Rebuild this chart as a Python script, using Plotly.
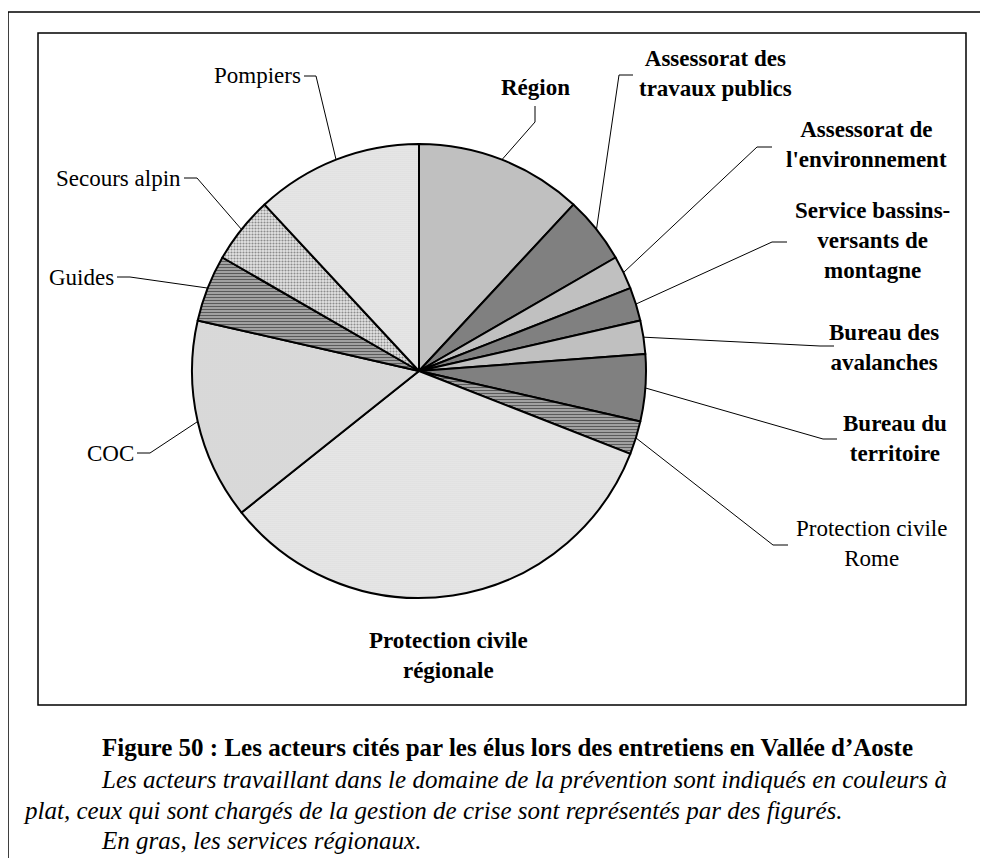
import math
import plotly.graph_objects as go

# données (nombre de citations par acteur)
acteurs = ["Région", "Assessorat des travaux publics", "Assessorat de l'environnement",
           "Service bassins-versants de montagne", "Bureau des avalanches",
           "Bureau du territoire", "Protection civile Rome", "Protection civile régionale",
           "COC", "Guides", "Secours alpin", "Pompiers"]
citations = [5, 2, 1, 1, 1, 2, 1, 14, 6, 2, 2, 5]
etiquettes = ["Région", "Assessorat des<br>travaux publics", "Assessorat de<br>l'environnement",
              "Service bassins-<br>versants de<br>montagne", "Bureau des<br>avalanches",
              "Bureau du<br>territoire", "Protection civile<br>Rome",
              "Protection civile<br>régionale", "COC", "Guides", "Secours alpin", "Pompiers"]
service_regional = [True, True, True, True, True, True, False, True, False, False, False, False]

titre = "Figure 50 : Les acteurs cités par les élus lors des entretiens en Vallée d’Aoste"
legende = [
    "Les acteurs travaillant dans le domaine de la prévention sont indiqués en couleurs à",
    "plat, ceux qui sont chargés de la gestion de crise sont représentés par des figurés.",
    "En gras, les services régionaux.",
]

# mise en page (pixels de la capture ; la page a une marge de 8 px)
W, H = 988, 858
OFF = 8
CX, CY, R = 419, 371, 227
FONT = "Liberation Serif, Times New Roman, serif"

# remplissage : (couleur, motif, trait, fond, taille, densité)
remplis = [
    ("#c0c0c0", "", None, None, 8, 0.3),
    ("#808080", "", None, None, 8, 0.3),
    ("#c0c0c0", "", None, None, 8, 0.3),
    ("#808080", "", None, None, 8, 0.3),
    ("#c0c0c0", "", None, None, 8, 0.3),
    ("#808080", "", None, None, 8, 0.3),
    ("#a0a0a0", "-", "#5a5a5a", "#b0b0b0", 3, 0.45),
    ("#e6e6e6", ".", "#c4c4c4", "#ededed", 2, 0.3),
    ("#e0e0e0", ".", "#bdbdbd", "#e8e8e8", 2, 0.35),
    ("#a0a0a0", "-", "#5a5a5a", "#b0b0b0", 3, 0.45),
    ("#d0d0d0", ".", "#8c8c8c", "#e4e4e4", 3, 0.4),
    ("#e6e6e6", ".", "#c4c4c4", "#ededed", 2, 0.3),
]

# position des étiquettes : texte (x, y, ancre), coude et fin du trait de rappel
placement = [
    (535, 88, "center", (535, 122), (535, 106)),
    (715, 74, "center", (619, 75), (633, 75)),
    (866, 145, "center", (757, 147), (772, 147)),
    (872, 241, "center", (772, 242), (787, 242)),
    (884, 347, "center", (820, 346), (834, 346)),
    (895, 438, "center", (823, 439), (837, 439)),
    (871, 543, "center", (773, 545), (788, 545)),
    (448, 655, "center", None, None),
    (136, 453, "right", (150, 453), (137, 453)),
    (116, 277, "right", (130, 277), (117, 277)),
    (183, 178, "right", (197, 178), (184, 178)),
    (303, 76, "right", (316, 76), (304, 76)),
]


def px(x):
    return (x - OFF) / W


def py(y):
    return 1 - (y - OFF) / H


fig = go.Figure(go.Pie(
    labels=acteurs,
    values=citations,
    sort=False,
    direction="clockwise",
    rotation=0,
    textinfo="none",
    hoverinfo="label+value",
    showlegend=False,
    domain=dict(x=[px(CX - R), px(CX + R)], y=[py(CY + R), py(CY - R)]),
    marker=dict(
        colors=[r[0] for r in remplis],
        line=dict(color="black", width=2),
        pattern=dict(
            shape=[r[1] for r in remplis],
            fgcolor=[r[2] or r[0] for r in remplis],
            bgcolor=[r[3] or r[0] for r in remplis],
            size=[r[4] for r in remplis],
            solidity=[r[5] for r in remplis],
            fillmode="replace",
        ),
    ),
))

shapes = [
    dict(type="rect", xref="paper", yref="paper", x0=px(8), y0=py(H + 20), x1=px(W + 20), y1=py(12),
         line=dict(color="black", width=1.5)),
    dict(type="rect", xref="paper", yref="paper", x0=px(38), y0=py(705), x1=px(966), y1=py(33),
         line=dict(color="black", width=1.5)),
]
annotations = []

total = sum(citations)
cumul = 0
for i, v in enumerate(citations):
    angle = math.radians(360 * (cumul + v / 2) / total)
    cumul += v
    ex, ey = CX + R * math.sin(angle), CY - R * math.cos(angle)
    tx, ty, ancre, coude, fin = placement[i]
    texte = f"<b>{etiquettes[i]}</b>" if service_regional[i] else etiquettes[i]
    annotations.append(dict(
        x=px(tx), y=py(ty), xref="paper", yref="paper", text=texte, showarrow=False,
        xanchor=ancre, yanchor="middle", align="center",
        font=dict(family=FONT, size=23, color="black"),
    ))
    if coude:
        shapes.append(dict(
            type="path", xref="paper", yref="paper",
            path=f"M {px(ex)},{py(ey)} L {px(coude[0])},{py(coude[1])} L {px(fin[0])},{py(fin[1])}",
            line=dict(color="black", width=1),
        ))

annotations.append(dict(
    x=px(100), y=py(747), xref="paper", yref="paper", text=f"<b>{titre}</b>", showarrow=False,
    xanchor="left", yanchor="middle", font=dict(family=FONT, size=25, color="black"),
))
for ligne, (lx, ly) in zip(legende, [(100, 779), (22, 810), (100, 840)]):
    annotations.append(dict(
        x=px(lx), y=py(ly), xref="paper", yref="paper", text=f"<i>{ligne}</i>", showarrow=False,
        xanchor="left", yanchor="middle", borderpad=0,
        font=dict(family=FONT, size=25, color="black"),
    ))

fig.update_layout(
    width=W,
    height=H,
    margin=dict(l=0, r=0, t=0, b=0),
    paper_bgcolor="white",
    plot_bgcolor="white",
    shapes=shapes,
    annotations=annotations,
)

fig.write_html("out.html")
